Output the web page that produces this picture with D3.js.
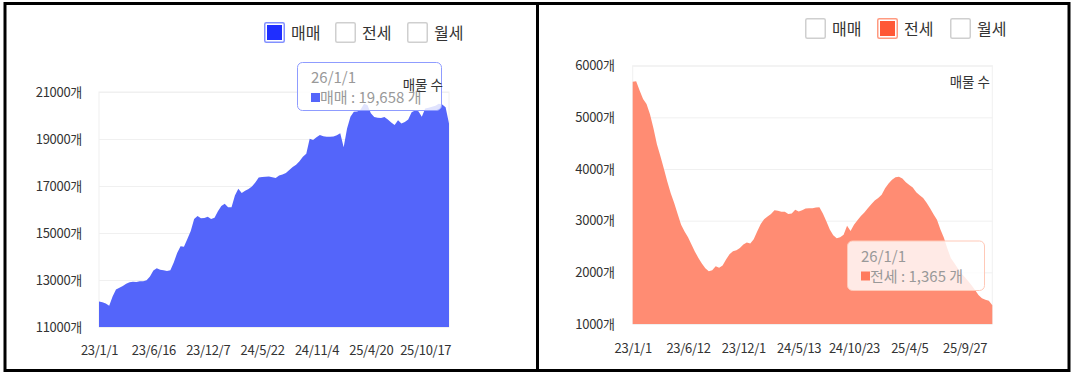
<!DOCTYPE html>
<html>
<head>
<meta charset="utf-8">
<script src="https://cdn.jsdelivr.net/npm/d3@7"></script>
<style>
  html, body { margin: 0; padding: 0; background: #fff; }
  svg { display: block; font-family: "Noto Sans CJK KR", "Noto Sans", sans-serif; }
</style>
</head>
<body>
<svg id="chart" width="1075" height="379"></svg>
<script>
// ---------- DATA ----------
const legendNames = ["매매", "전세", "월세"];
const labelInterval = 16;

// 매매 (sale) listings
const saleTickLabels = ["23/1/1", "23/6/16", "23/12/7", "24/5/22", "24/11/4", "25/4/20", "25/10/17"];
const saleYTicks = [11000, 13000, 15000, 17000, 19000, 21000];
const saleValues = [
  12080, 12050, 12000, 11900, 12300, 12600, 12670, 12740, 12840, 12900,
  12930, 12920, 12950, 12950, 12990, 13150, 13400, 13500, 13440, 13410,
  13380, 13420, 13750, 14150, 14440, 14420, 14750, 15080, 15600, 15720,
  15630, 15640, 15690, 15600, 15650, 15930, 16150, 16250, 16100, 16100,
  16600, 16880, 16700, 16800, 16870, 16980, 17150, 17360, 17380, 17390,
  17400, 17370, 17340, 17450, 17490, 17550, 17680, 17810, 17900, 18050,
  18250, 18370, 19010, 18960, 19070, 19170, 19120, 19100, 19100, 19110,
  19160, 19250, 18650, 19450, 19950, 20160, 20170, 20260, 20500, 20450,
  20100, 19940, 19900, 19890, 19940, 19830, 19700, 19600, 19800, 19660,
  19720, 19830, 20140, 20210, 20180, 19950, 20300, 20330, 20370, 20420,
  20500, 20470, 20350, 19658
];

// 전세 (jeonse) listings
const jeonseTickLabels = ["23/1/1", "23/6/12", "23/12/1", "24/5/13", "24/10/23", "25/4/5", "25/9/27"];
const jeonseYTicks = [1000, 2000, 3000, 4000, 5000, 6000];
const jeonseValues = [
  5690, 5700, 5520, 5355, 5260, 5060, 4790, 4480, 4250, 4010,
  3760, 3530, 3340, 3130, 2920, 2790, 2680, 2540, 2400, 2280,
  2170, 2080, 2020, 2040, 2120, 2090, 2130, 2250, 2350, 2410,
  2430, 2470, 2540, 2580, 2560, 2640, 2790, 2930, 3030, 3080,
  3130, 3200, 3190, 3175, 3175, 3130, 3140, 3210, 3180, 3200,
  3235, 3240, 3240, 3255, 3260, 3140, 2990, 2830, 2720, 2660,
  2680, 2730, 2900, 2800, 2920, 3010, 3090, 3160, 3240, 3320,
  3390, 3440, 3500, 3630, 3720, 3790, 3840, 3850, 3815, 3745,
  3690, 3640, 3550, 3490, 3440, 3345, 3240, 3125, 3020, 2830,
  2670, 2460, 2280, 2180, 2080, 1980, 1910, 1830, 1750, 1660,
  1560, 1500, 1470, 1450, 1365
];

const tooltipDate = "26/1/1";
const saleTooltipValue = 19658;
const jeonseTooltipValue = 1365;
const chartTitle = "매물 수";
const unit = "개";

// ---------- DRAW ----------
const svg = d3.select("#chart");

function drawPanel(cfg) {
  const g = svg.append("g");
  const n = cfg.values.length;
  const x = d3.scalePoint().domain(d3.range(n)).range([cfg.left, cfg.right]);
  const y = d3.scaleLinear().domain([cfg.yTicks[0], cfg.yTicks[cfg.yTicks.length - 1]]).range([cfg.bottom, cfg.top]);

  // plot frame
  g.append("rect")
    .attr("x", cfg.left).attr("y", cfg.top)
    .attr("width", cfg.right - cfg.left).attr("height", cfg.bottom - cfg.top)
    .attr("fill", "none").attr("stroke", "#f0f0f0").attr("stroke-width", 1);

  // grid + y labels
  const yAxis = g.append("g")
    .attr("transform", `translate(${cfg.left},0)`)
    .call(d3.axisLeft(y).tickValues(cfg.yTicks)
      .tickSize(-(cfg.right - cfg.left))
      .tickPadding(cfg.yPad)
      .tickFormat(d => d + unit));
  yAxis.select(".domain").remove();
  yAxis.selectAll(".tick line").attr("stroke", "#f0f0f0").attr("stroke-width", 1);
  yAxis.selectAll(".tick text")
    .attr("fill", "#333").attr("font-size", 13)
    .attr("font-family", "'Noto Sans CJK KR', sans-serif")
    .style("letter-spacing", "-0.3px");

  // area
  const area = d3.area()
    .x((d, i) => x(i))
    .y0(y(cfg.yTicks[0]))
    .y1(d => y(d))
    .curve(d3.curveLinear);
  g.append("path").datum(cfg.values)
    .attr("d", area)
    .attr("fill", cfg.fill);

  // x labels
  const tickIdx = cfg.tickLabels.map((_, k) => k * labelInterval);
  const xAxis = g.append("g")
    .attr("transform", `translate(0,${cfg.xLabelY})`)
    .call(d3.axisBottom(x).tickValues(tickIdx)
      .tickSize(0).tickPadding(0)
      .tickFormat(i => cfg.tickLabels[i / labelInterval]));
  xAxis.select(".domain").remove();
  xAxis.selectAll(".tick text")
    .attr("fill", "#333").attr("font-size", 13)
    .attr("dy", "0.35em").attr("y", 0)
    .attr("font-family", "'Noto Sans CJK KR', sans-serif")
    .style("letter-spacing", "-0.3px");

  // legend
  legendNames.forEach((name, k) => {
    const lx = cfg.legendX[k];
    const active = k === cfg.activeIndex;
    if (active) {
      g.append("rect").attr("x", lx + 0.75).attr("y", cfg.legendY + 0.75)
        .attr("width", 19.5).attr("height", 19.5).attr("rx", 1.5)
        .attr("fill", "#fff").attr("stroke", cfg.legendBorder).attr("stroke-width", 1.5);
      g.append("rect").attr("x", lx + 3).attr("y", cfg.legendY + 3)
        .attr("width", 15).attr("height", 15)
        .attr("fill", cfg.legendFill);
    } else {
      g.append("rect").attr("x", lx + 0.75).attr("y", cfg.legendY + 0.75)
        .attr("width", 19.5).attr("height", 19.5).attr("rx", 1.5)
        .attr("fill", "#fff").attr("stroke", "#cfcfcf").attr("stroke-width", 1.5);
    }
    g.append("text").attr("x", lx + 27).attr("y", cfg.legendY + 11)
      .attr("dy", "0.35em").attr("font-size", 16).attr("fill", "#333")
      .text(name);
  });

  const drawTitle = () => g.append("text")
    .attr("x", cfg.titleX).attr("y", cfg.titleY).attr("dy", "0.35em")
    .attr("text-anchor", "end").attr("font-size", 13.5).attr("fill", "#333")
    .text(chartTitle);

  if (!cfg.titleOnTop) drawTitle();

  // tooltip
  const tt = g.append("g");
  tt.append("rect")
    .attr("x", cfg.tip[0] + 0.5).attr("y", cfg.tip[1] + 0.5)
    .attr("width", cfg.tip[2]).attr("height", cfg.tip[3]).attr("rx", 5)
    .attr("fill", "rgba(255,255,255,0.82)")
    .attr("stroke", cfg.tipBorder).attr("stroke-width", 1);
  tt.append("text")
    .attr("x", cfg.tip[0] + 14).attr("y", cfg.tip[1] + 16).attr("dy", "0.35em")
    .attr("font-size", 15).attr("fill", "#999").text(tooltipDate);
  tt.append("rect")
    .attr("x", cfg.tip[0] + 14).attr("y", cfg.tip[1] + 31)
    .attr("width", 9).attr("height", 9).attr("fill", cfg.tipMarker);
  tt.append("text")
    .attr("x", cfg.tip[0] + 23).attr("y", cfg.tip[1] + 36).attr("dy", "0.35em")
    .attr("font-size", 15).attr("fill", "#999")
    .text(`${cfg.tipName} : ${d3.format(",")(cfg.tipValue)} ${unit}`);

  if (cfg.titleOnTop) drawTitle();
}

drawPanel({
  values: saleValues, yTicks: saleYTicks, tickLabels: saleTickLabels,
  left: 99, right: 449, top: 92, bottom: 327, yPad: 17, xLabelY: 350,
  fill: "#5465fa",
  legendX: [264, 335, 407], legendY: 22, activeIndex: 0,
  legendFill: "#1f2eff", legendBorder: "#8290ff",
  titleX: 443, titleY: 85, titleOnTop: true,
  tip: [297, 62, 144, 48], tipBorder: "#8f9cff", tipMarker: "#5465fa",
  tipName: legendNames[0], tipValue: saleTooltipValue
});

drawPanel({
  values: jeonseValues, yTicks: jeonseYTicks, tickLabels: jeonseTickLabels,
  left: 632.7, right: 992.3, top: 65.7, bottom: 324, yPad: 18, xLabelY: 348,
  fill: "#ff8c73",
  legendX: [805, 877, 950], legendY: 18, activeIndex: 1,
  legendFill: "#ff5836", legendBorder: "#ff9a80",
  titleX: 990, titleY: 82, titleOnTop: false,
  tip: [847, 240.5, 137, 49.5], tipBorder: "#ffc9b8", tipMarker: "#ff7a5c",
  tipName: legendNames[1], tipValue: jeonseTooltipValue
});

// outer frames
svg.append("rect").attr("x", 5).attr("y", 3.5).attr("width", 532.5).attr("height", 367)
  .attr("fill", "none").attr("stroke", "#000").attr("stroke-width", 3);
svg.append("rect").attr("x", 537.5).attr("y", 3.5).attr("width", 531.5).attr("height", 367)
  .attr("fill", "none").attr("stroke", "#000").attr("stroke-width", 3);
</script>
</body>
</html>
